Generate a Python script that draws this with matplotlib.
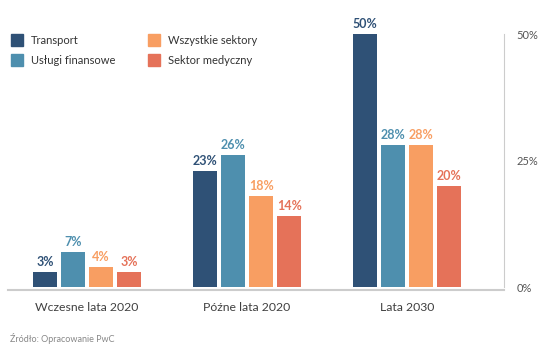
import matplotlib
matplotlib.use('agg')
import matplotlib.pyplot as plt
import numpy as np
from matplotlib.patches import Rectangle

# data
groups = ["Wczesne lata 2020", "Późne lata 2020", "Lata 2030"]
series = ["Transport", "Usługi finansowe", "Wszystkie sektory", "Sektor medyczny"]
transport = [3, 23, 50]
uslugi = [7, 26, 28]
wszystkie = [4, 18, 28]
medyczny = [3, 14, 20]
colors = ["#2F5176", "#4E8FAE", "#F89E62", "#E57259"]

plt.rcParams['font.family'] = ['Lato', 'DejaVu Sans']

fig = plt.figure(figsize=(5.44, 3.55), dpi=100)
ax = fig.add_axes([0.0147, 0.1915, 0.912, 0.7125])

x = np.arange(len(groups))
step = 0.175
width = 0.15
values = [transport, uslugi, wszystkie, medyczny]
for i, (vals, col) in enumerate(zip(values, colors)):
    pos = x + (i - 1.5) * step
    ax.bar(pos, vals, width=width, color=col)
    for p, v in zip(pos, vals):
        ax.text(p, v + 0.8, f"{v}%", ha='center', va='bottom', color=col,
                fontsize=9, fontweight='bold')

ax.set_xlim(-0.494, 2.606)
ax.set_ylim(0, 50)
ax.set_yticks([0, 25, 50])
ax.set_yticklabels(["0%", "25%", "50%"])
ax.yaxis.tick_right()
ax.tick_params(axis='y', length=0, pad=9, labelsize=8, labelcolor='#555555')
ax.set_xticks(x)
ax.set_xticklabels(groups)
ax.tick_params(axis='x', length=0, pad=9, labelsize=8.8, labelcolor='#404040')
for s in ['top', 'left']:
    ax.spines[s].set_visible(False)
ax.spines['right'].set_color('#cccccc')
ax.spines['right'].set_linewidth(0.8)
ax.spines['bottom'].set_color('#cccccc')
ax.spines['bottom'].set_linewidth(1.5)
ax.spines['bottom'].set_position(('outward', 2))

# legend drawn manually in figure pixels
legend_pos = [(11, 34), (11, 54), (148, 34), (148, 54)]
for (lx, ly), name, col in zip(legend_pos, series, colors):
    fig.patches.append(Rectangle((lx / 544, 1 - (ly + 12) / 355), 12 / 544, 12 / 355,
                                 transform=fig.transFigure, color=col))
    fig.text((lx + 20) / 544, 1 - (ly + 6) / 355, name, fontsize=8,
             color='#333333', va='center')

fig.text(10 / 544, 1 - 338 / 355, "Źródło: Opracowanie PwC", fontsize=6.5,
         color='#888888', va='center')

plt.savefig("out.png", dpi=100)
